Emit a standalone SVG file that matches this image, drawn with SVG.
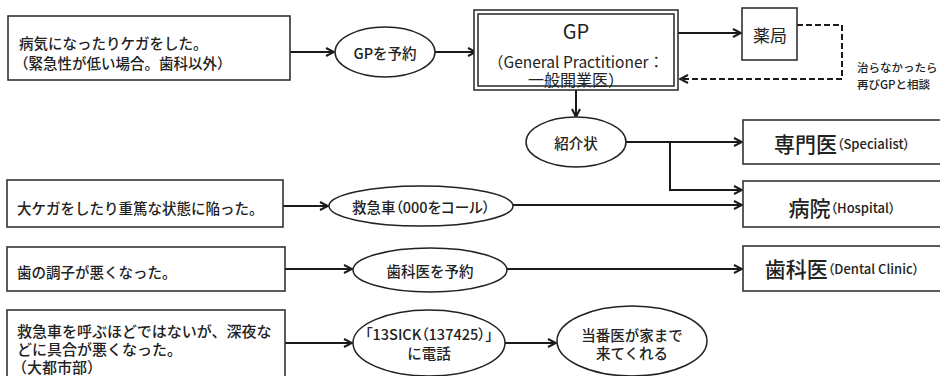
<svg xmlns="http://www.w3.org/2000/svg" width="940" height="376" viewBox="0 0 940 376">
<defs>
<marker id="arr" viewBox="0 0 10 10" refX="9" refY="5" markerWidth="10" markerHeight="10" markerUnits="userSpaceOnUse" orient="auto">
<path d="M1,1 L9,5 L1,9" fill="none" stroke="#1a1a1a" stroke-width="2"/>
</marker>
<style>
.box{fill:#fff;stroke:#333;stroke-width:1.6}
.ell{fill:#fff;stroke:#222;stroke-width:1.5}
.ln{fill:none;stroke:#1a1a1a;stroke-width:2}
.dash{fill:none;stroke:#1a1a1a;stroke-width:2;stroke-dasharray:6 3}
text{font-family:"Noto Sans CJK JP","Noto Sans CJK SC",sans-serif;fill:#222;dominant-baseline:central}
.t{font-size:14.5px;font-weight:500}
.c{text-anchor:middle}
.big{font-size:21px;font-weight:500}
.sm{font-size:13px;font-weight:500;font-feature-settings:"palt"}
.p{font-feature-settings:"palt"}
</style>
</defs>
<g id="connectors">
<line class="ln" x1="290" y1="52" x2="334" y2="52" marker-end="url(#arr)"/>
<line class="ln" x1="435" y1="52" x2="476" y2="52" marker-end="url(#arr)"/>
<line class="ln" x1="678" y1="33" x2="741" y2="33" marker-end="url(#arr)"/>
<polyline class="dash" points="797,25 842,25 842,79 680,79" marker-end="url(#arr)"/>
<line class="ln" x1="576" y1="90" x2="576" y2="117" marker-end="url(#arr)"/>
<line class="ln" x1="626" y1="142" x2="742" y2="142" marker-end="url(#arr)"/>
<polyline class="ln" points="670,142 670,190 742,190" marker-end="url(#arr)"/>
<line class="ln" x1="283" y1="206" x2="328" y2="206" marker-end="url(#arr)"/>
<line class="ln" x1="513" y1="205" x2="742" y2="205" marker-end="url(#arr)"/>
<line class="ln" x1="285" y1="269" x2="352" y2="269" marker-end="url(#arr)"/>
<line class="ln" x1="507" y1="269" x2="742" y2="269" marker-end="url(#arr)"/>
<line class="ln" x1="285" y1="343" x2="352" y2="343" marker-end="url(#arr)"/>
<line class="ln" x1="505" y1="343" x2="556" y2="343" marker-end="url(#arr)"/>
</g>
<g id="n-sick">
<rect class="box" x="8" y="16" width="282" height="64"/>
<text class="t" x="19" y="42">病気になったりケガをした。</text>
<text class="t" x="14" y="62">（緊急性が低い場合。歯科以外）</text>
</g>
<g id="n-gpbook">
<ellipse class="ell" cx="385" cy="52" rx="50" ry="25"/>
<text class="t c" x="385" y="52">GPを予約</text>
</g>
<g id="n-gp">
<rect class="box" x="474" y="10" width="204" height="80"/>
<rect class="box" x="478" y="14" width="196" height="72"/>
<text class="c" x="576" y="30" font-size="20">GP</text>
<text class="c" x="576" y="61" font-size="15.5">（General Practitioner：</text>
<text class="c" x="576" y="79" font-size="16">一般開業医）</text>
</g>
<g id="n-pharmacy">
<rect class="box" x="742" y="8" width="55" height="52"/>
<text class="c" x="770" y="34" font-size="17">薬局</text>
</g>
<g id="n-note">
<text class="t" x="857" y="67" style="font-size:11.5px">治らなかったら</text>
<text class="t" x="857" y="84" style="font-size:11.5px">再びGPと相談</text>
</g>
<g id="n-referral">
<ellipse class="ell" cx="576" cy="142" rx="50" ry="25"/>
<text class="t c" x="576" y="142">紹介状</text>
</g>
<g id="n-specialist">
<rect class="box" x="743" y="120" width="210" height="44"/>
<text class="c" x="842" y="143"><tspan class="big">専門医</tspan><tspan class="sm">（Specialist）</tspan></text>
</g>
<g id="n-hospital">
<rect class="box" x="743" y="181" width="210" height="46"/>
<text class="c" x="842" y="207"><tspan class="big">病院</tspan><tspan class="sm">（Hospital）</tspan></text>
</g>
<g id="n-injury">
<rect class="box" x="7" y="180" width="276" height="47"/>
<text class="t" x="17" y="207">大ケガをしたり重篤な状態に陥った。</text>
</g>
<g id="n-ambulance">
<ellipse class="ell" cx="421" cy="206" rx="92" ry="20"/>
<text class="t c p" x="421" y="206" style="font-size:14.5px">救急車（000をコール）</text>
</g>
<g id="n-teeth">
<rect class="box" x="7" y="247" width="278" height="44"/>
<text class="t" x="17" y="271">歯の調子が悪くなった。</text>
</g>
<g id="n-dentbook">
<ellipse class="ell" cx="430" cy="270" rx="77" ry="22"/>
<text class="t c" x="430" y="270">歯科医を予約</text>
</g>
<g id="n-dental">
<rect class="box" x="743" y="246" width="210" height="45"/>
<text class="c" x="842" y="268"><tspan class="big">歯科医</tspan><tspan class="sm">（Dental Clinic）</tspan></text>
</g>
<g id="n-night">
<rect class="box" x="7" y="310" width="278" height="80"/>
<text class="t" x="17" y="330" style="font-size:15px">救急車を呼ぶほどではないが、深夜な</text>
<text class="t" x="17" y="348" style="font-size:15px">どに具合が悪くなった。</text>
<text class="t" x="12" y="366" style="font-size:15px">（大都市部）</text>
</g>
<g id="n-13sick">
<ellipse class="ell" cx="429" cy="343" rx="76" ry="33"/>
<text class="t c p" x="429" y="333">「13SICK（137425）」</text>
<text class="t c" x="429" y="352">に電話</text>
</g>
<g id="n-duty">
<ellipse class="ell" cx="632" cy="341" rx="75" ry="35"/>
<text class="t c" x="632" y="334">当番医が家まで</text>
<text class="t c" x="632" y="352">来てくれる</text>
</g>
</svg>
